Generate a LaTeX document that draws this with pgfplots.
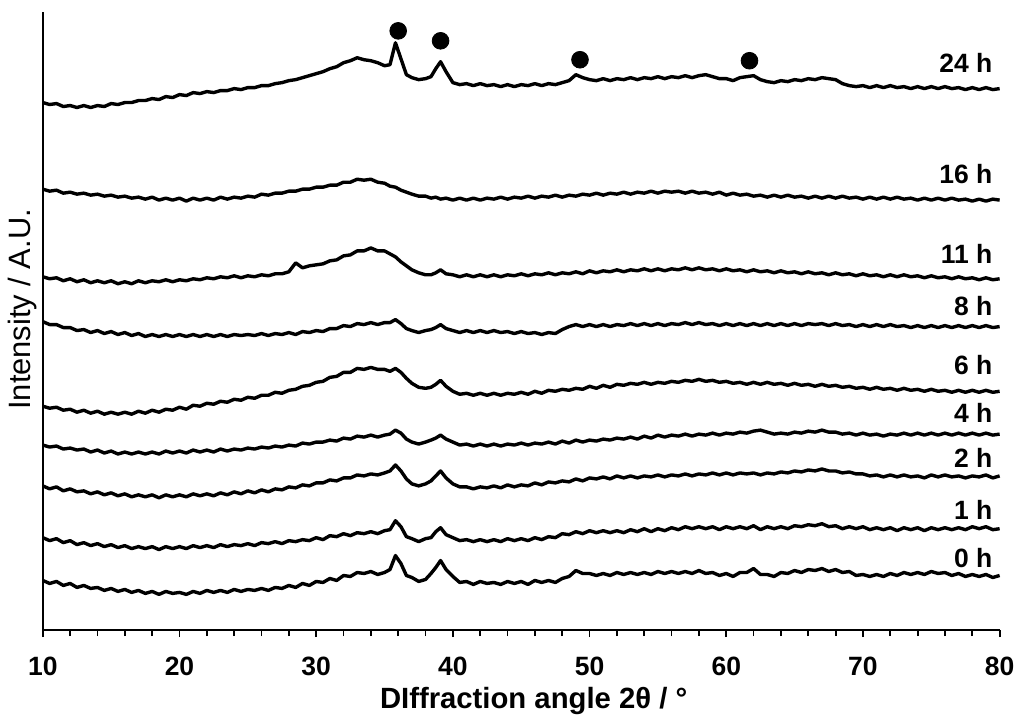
\documentclass[border=0pt]{standalone}
\usepackage{pgfplots}
\pgfplotsset{compat=1.18}
\usepackage{fontspec}
\setmainfont{Liberation Sans}

\begin{document}
\begin{tikzpicture}
\begin{axis}[
    scale only axis,
    width=480.5pt, height=310.5pt,
    xmin=10, xmax=80, ymin=0, ymax=621,
    axis x line=bottom, axis y line=left,
    axis line style={-, line width=0.9pt},
    xtick={10,20,...,80}, minor x tick num=4,
    ytick=\empty,
    tick align=outside,
    major tick length=3.5pt, minor tick length=3pt,
    tick style={black, line width=0.9pt},
    minor tick style={black, line width=0.9pt},
    /pgf/number format/assume math mode=true,
    xticklabel style={font=\fontsize{13.3}{15}\selectfont\bfseries, yshift=-6.5pt},
    xlabel={DIffraction angle 2θ / °},
    xlabel style={font=\fontsize{14.7}{17}\selectfont\bfseries, at={(axis description cs:0.513,-0.114)}, anchor=center},
    ylabel={Intensity / A.U.},
    ylabel style={font=\fontsize{15.5}{17}\selectfont, at={(axis description cs:-0.0213,0.519)}, anchor=center},
    clip=false,
    trace/.style={black, line width=1.7pt, line join=round, mark=none},
]
% 0 h
\addplot[trace] coordinates {(10,50)(10.5,47)(11,49)(11.5,45)(12,47)(12.5,43)(13,45)(13.5,42)(14,43)(14.5,40)(15,42)(15.5,39)(16,41)(16.5,38)(17,40)(17.5,37)(18,39)(18.5,36)(19,39)(19.5,37)(20,38)(20.5,36)(21,39)(21.5,37)(22,40)(22.5,38)(23,40)(23.5,38)(24,41)(24.5,39)(25,41)(25.5,40)(26,42)(26.5,40)(27,43)(27.5,42)(28,45)(28.5,43)(29,47)(29.5,45)(30,49)(30.5,48)(31,52)(31.5,50)(32,55)(32.5,54)(33,58)(33.5,57)(34,59)(34.5,56)(35,58)(35.4,61)(35.8,75)(36.2,67)(36.6,55)(37,53)(37.5,49)(38,51)(38.4,57)(38.75,63)(39.1,70)(39.5,61)(40,54)(40.5,48)(41,49)(41.5,46)(42,49)(42.5,47)(43,48)(43.5,46)(44,49)(44.5,47)(45,49)(45.5,46)(46,50)(46.5,48)(47,50)(47.5,48)(48,52)(48.5,54)(49,60)(49.5,57)(50,57)(50.5,55)(51,57)(51.5,55)(52,58)(52.5,56)(53,58)(53.5,56)(54,58)(54.5,56)(55,59)(55.5,57)(56,59)(56.5,57)(57,59)(57.5,57)(58,60)(58.5,57)(59,58)(59.5,55)(60,57)(60.5,54)(61,58)(61.5,58)(62,62)(62.5,56)(63,56)(63.5,54)(64,58)(64.5,57)(65,60)(65.5,58)(66,61)(66.5,60)(67,62)(67.5,59)(68,61)(68.5,58)(69,59)(69.5,55)(70,56)(70.5,54)(71,56)(71.5,54)(72,57)(72.5,55)(73,58)(73.5,56)(74,58)(74.5,56)(75,59)(75.5,57)(76,58)(76.5,55)(77,57)(77.5,54)(78,56)(78.5,54)(79,56)(79.5,53)(80,55)};
% 1 h
\addplot[trace] coordinates {(10,93)(10.5,90)(11,92)(11.5,88)(12,90)(12.5,86)(13,88)(13.5,85)(14,87)(14.5,84)(15,86)(15.5,83)(16,85)(16.5,82)(17,84)(17.5,82)(18,84)(18.5,81)(19,84)(19.5,82)(20,84)(20.5,82)(21,85)(21.5,83)(22,85)(22.5,83)(23,86)(23.5,84)(24,86)(24.5,85)(25,87)(25.5,85)(26,88)(26.5,87)(27,89)(27.5,87)(28,90)(28.5,89)(29,91)(29.5,90)(30,93)(30.5,91)(31,95)(31.5,94)(32,97)(32.5,95)(33,98)(33.5,97)(34,99)(34.5,97)(35,100)(35.4,101)(35.8,110)(36.2,104)(36.6,94)(37,92)(37.5,89)(38,92)(38.4,93)(38.75,99)(39.1,103)(39.5,96)(40,93)(40.5,90)(41,91)(41.5,89)(42,91)(42.5,89)(43,91)(43.5,89)(44,92)(44.5,90)(45,92)(45.5,90)(46,93)(46.5,91)(47,94)(47.5,93)(48,97)(48.5,96)(49,99)(49.5,97)(50,100)(50.5,98)(51,100)(51.5,98)(52,100)(52.5,98)(53,101)(53.5,99)(54,102)(54.5,99)(55,102)(55.5,100)(56,103)(56.5,101)(57,104)(57.5,102)(58,104)(58.5,102)(59,104)(59.5,101)(60,104)(60.5,102)(61,104)(61.5,102)(62,105)(62.5,101)(63,104)(63.5,102)(64,104)(64.5,102)(65,105)(65.5,104)(66,106)(66.5,105)(67,107)(67.5,104)(68,105)(68.5,102)(69,104)(69.5,102)(70,104)(70.5,101)(71,103)(71.5,101)(72,103)(72.5,100)(73,103)(73.5,101)(74,103)(74.5,100)(75,103)(75.5,101)(76,103)(76.5,101)(77,103)(77.5,101)(78,104)(78.5,102)(79,104)(79.5,101)(80,102)};
% 2 h
\addplot[trace] coordinates {(10,145)(10.5,142)(11,144)(11.5,140)(12,142)(12.5,139)(13,140)(13.5,137)(14,139)(14.5,136)(15,138)(15.5,135)(16,137)(16.5,134)(17,136)(17.5,134)(18,136)(18.5,133)(19,136)(19.5,134)(20,136)(20.5,134)(21,137)(21.5,135)(22,137)(22.5,135)(23,138)(23.5,136)(24,139)(24.5,137)(25,140)(25.5,138)(26,141)(26.5,139)(27,142)(27.5,141)(28,144)(28.5,143)(29,146)(29.5,145)(30,148)(30.5,148)(31,151)(31.5,150)(32,153)(32.5,153)(33,156)(33.5,155)(34,157)(34.5,156)(35,158)(35.4,160)(35.8,166)(36.2,160)(36.6,152)(37,147)(37.5,145)(38,147)(38.4,150)(38.75,155)(39.1,160)(39.5,153)(40,147)(40.5,144)(41,144)(41.5,142)(42,144)(42.5,143)(43,145)(43.5,143)(44,146)(44.5,144)(45,146)(45.5,145)(46,148)(46.5,146)(47,149)(47.5,148)(48,150)(48.5,149)(49,152)(49.5,150)(50,153)(50.5,152)(51,154)(51.5,152)(52,155)(52.5,153)(53,155)(53.5,153)(54,155)(54.5,154)(55,156)(55.5,154)(56,156)(56.5,155)(57,157)(57.5,155)(58,157)(58.5,156)(59,158)(59.5,156)(60,158)(60.5,156)(61,158)(61.5,157)(62,158)(62.5,156)(63,158)(63.5,157)(64,159)(64.5,158)(65,160)(65.5,159)(66,161)(66.5,160)(67,162)(67.5,160)(68,160)(68.5,158)(69,159)(69.5,157)(70,157)(70.5,155)(71,156)(71.5,154)(72,156)(72.5,154)(73,156)(73.5,154)(74,155)(74.5,153)(75,156)(75.5,154)(76,156)(76.5,154)(77,155)(77.5,153)(78,155)(78.5,154)(79,156)(79.5,153)(80,155)};
% 4 h
\addplot[trace] coordinates {(10,186)(10.5,184)(11,185)(11.5,182)(12,183)(12.5,181)(13,182)(13.5,179)(14,181)(14.5,178)(15,180)(15.5,177)(16,179)(16.5,177)(17,179)(17.5,177)(18,179)(18.5,177)(19,180)(19.5,178)(20,180)(20.5,178)(21,181)(21.5,179)(22,181)(22.5,179)(23,182)(23.5,180)(24,182)(24.5,181)(25,183)(25.5,182)(26,184)(26.5,183)(27,185)(27.5,184)(28,186)(28.5,185)(29,188)(29.5,187)(30,189)(30.5,189)(31,191)(31.5,190)(32,193)(32.5,192)(33,195)(33.5,194)(34,196)(34.5,194)(35,196)(35.4,197)(35.8,201)(36.2,198)(36.6,192)(37,189)(37.5,187)(38,189)(38.4,191)(38.75,193)(39.1,196)(39.5,192)(40,189)(40.5,186)(41,187)(41.5,185)(42,187)(42.5,185)(43,187)(43.5,185)(44,187)(44.5,186)(45,188)(45.5,186)(46,188)(46.5,187)(47,189)(47.5,187)(48,190)(48.5,188)(49,191)(49.5,189)(50,191)(50.5,190)(51,192)(51.5,191)(52,193)(52.5,192)(53,194)(53.5,192)(54,195)(54.5,193)(55,196)(55.5,194)(56,196)(56.5,195)(57,197)(57.5,195)(58,197)(58.5,196)(59,198)(59.5,196)(60,198)(60.5,197)(61,199)(61.5,198)(62,200)(62.5,201)(63,199)(63.5,197)(64,198)(64.5,197)(65,199)(65.5,198)(66,200)(66.5,199)(67,201)(67.5,199)(68,199)(68.5,197)(69,198)(69.5,196)(70,198)(70.5,196)(71,197)(71.5,195)(72,197)(72.5,196)(73,198)(73.5,196)(74,198)(74.5,196)(75,198)(75.5,196)(76,198)(76.5,196)(77,198)(77.5,196)(78,198)(78.5,196)(79,198)(79.5,196)(80,197)};
% 6 h
\addplot[trace] coordinates {(10,225)(10.5,223)(11,224)(11.5,221)(12,222)(12.5,219)(13,221)(13.5,218)(14,220)(14.5,217)(15,219)(15.5,217)(16,219)(16.5,217)(17,220)(17.5,218)(18,221)(18.5,219)(19,222)(19.5,221)(20,224)(20.5,222)(21,226)(21.5,225)(22,228)(22.5,227)(23,230)(23.5,229)(24,232)(24.5,231)(25,234)(25.5,233)(26,236)(26.5,236)(27,239)(27.5,238)(28,241)(28.5,242)(29,245)(29.5,246)(30,249)(30.5,250)(31,254)(31.5,255)(32,259)(32.5,259)(33,263)(33.5,262)(34,264)(34.5,262)(35,262)(35.4,260)(35.8,263)(36.2,259)(36.6,253)(37,248)(37.5,244)(38,243)(38.4,244)(38.75,247)(39.1,251)(39.5,245)(40,240)(40.5,237)(41,238)(41.5,236)(42,238)(42.5,236)(43,238)(43.5,236)(44,238)(44.5,237)(45,239)(45.5,237)(46,240)(46.5,238)(47,241)(47.5,240)(48,242)(48.5,241)(49,243)(49.5,242)(50,245)(50.5,243)(51,246)(51.5,244)(52,247)(52.5,246)(53,248)(53.5,247)(54,249)(54.5,247)(55,249)(55.5,248)(56,250)(56.5,249)(57,251)(57.5,250)(58,252)(58.5,250)(59,251)(59.5,249)(60,250)(60.5,248)(61,249)(61.5,247)(62,249)(62.5,247)(63,249)(63.5,247)(64,248)(64.5,246)(65,248)(65.5,246)(66,247)(66.5,245)(67,247)(67.5,245)(68,246)(68.5,244)(69,245)(69.5,243)(70,244)(70.5,242)(71,244)(71.5,242)(72,243)(72.5,241)(73,243)(73.5,241)(74,242)(74.5,240)(75,242)(75.5,240)(76,241)(76.5,239)(77,241)(77.5,239)(78,241)(78.5,239)(79,241)(79.5,239)(80,240)};
% 8 h
\addplot[trace] coordinates {(10,310)(10.5,307)(11,307)(11.5,304)(12,304)(12.5,301)(13,302)(13.5,299)(14,301)(14.5,298)(15,300)(15.5,297)(16,299)(16.5,296)(17,298)(17.5,295)(18,297)(18.5,295)(19,297)(19.5,295)(20,297)(20.5,295)(21,297)(21.5,295)(22,297)(22.5,295)(23,297)(23.5,295)(24,297)(24.5,296)(25,297)(25.5,296)(26,298)(26.5,296)(27,298)(27.5,297)(28,299)(28.5,297)(29,300)(29.5,299)(30,301)(30.5,300)(31,303)(31.5,303)(32,306)(32.5,305)(33,308)(33.5,307)(34,309)(34.5,307)(35,309)(35.4,309)(35.8,312)(36.2,308)(36.6,303)(37,301)(37.5,299)(38,301)(38.4,302)(38.75,304)(39.1,307)(39.5,303)(40,301)(40.5,299)(41,301)(41.5,299)(42,301)(42.5,299)(43,301)(43.5,299)(44,300)(44.5,298)(45,300)(45.5,298)(46,299)(46.5,297)(47,299)(47.5,298)(48,302)(48.5,305)(49,307)(49.5,305)(50,307)(50.5,305)(51,307)(51.5,305)(52,307)(52.5,306)(53,308)(53.5,306)(54,308)(54.5,306)(55,308)(55.5,306)(56,308)(56.5,307)(57,309)(57.5,307)(58,309)(58.5,307)(59,308)(59.5,306)(60,308)(60.5,306)(61,308)(61.5,306)(62,308)(62.5,306)(63,308)(63.5,306)(64,308)(64.5,306)(65,308)(65.5,306)(66,308)(66.5,307)(67,308)(67.5,306)(68,308)(68.5,306)(69,307)(69.5,305)(70,307)(70.5,305)(71,307)(71.5,305)(72,307)(72.5,305)(73,306)(73.5,304)(74,306)(74.5,304)(75,306)(75.5,304)(76,306)(76.5,304)(77,306)(77.5,304)(78,306)(78.5,304)(79,306)(79.5,304)(80,305)};
% 11 h
\addplot[trace] coordinates {(10,355)(10.5,353)(11,354)(11.5,351)(12,353)(12.5,350)(13,352)(13.5,349)(14,351)(14.5,349)(15,351)(15.5,348)(16,350)(16.5,348)(17,351)(17.5,349)(18,351)(18.5,350)(19,352)(19.5,350)(20,352)(20.5,351)(21,353)(21.5,352)(22,354)(22.5,353)(23,355)(23.5,354)(24,356)(24.5,354)(25,356)(25.5,355)(26,357)(26.5,356)(27,358)(27.5,358)(28,360)(28.5,369)(29,364)(29.5,366)(30,367)(30.5,368)(31,371)(31.5,372)(32,376)(32.5,377)(33,381)(33.5,381)(34,384)(34.5,381)(35,381)(35.4,378)(35.8,375)(36.2,370)(36.6,366)(37,362)(37.5,359)(38,357)(38.4,357)(38.75,359)(39.1,362)(39.5,358)(40,357)(40.5,355)(41,357)(41.5,355)(42,357)(42.5,355)(43,357)(43.5,355)(44,357)(44.5,356)(45,358)(45.5,356)(46,358)(46.5,357)(47,359)(47.5,357)(48,359)(48.5,358)(49,360)(49.5,358)(50,361)(50.5,359)(51,361)(51.5,360)(52,362)(52.5,360)(53,362)(53.5,361)(54,363)(54.5,361)(55,363)(55.5,361)(56,363)(56.5,362)(57,364)(57.5,362)(58,364)(58.5,362)(59,363)(59.5,361)(60,363)(60.5,361)(61,362)(61.5,360)(62,362)(62.5,360)(63,361)(63.5,359)(64,361)(64.5,359)(65,360)(65.5,358)(66,360)(66.5,358)(67,359)(67.5,357)(68,359)(68.5,357)(69,358)(69.5,356)(70,358)(70.5,356)(71,357)(71.5,355)(72,357)(72.5,355)(73,357)(73.5,355)(74,356)(74.5,354)(75,356)(75.5,354)(76,355)(76.5,353)(77,355)(77.5,353)(78,354)(78.5,352)(79,354)(79.5,352)(80,353)};
% 16 h
\addplot[trace] coordinates {(10,443)(10.5,441)(11,442)(11.5,439)(12,440)(12.5,438)(13,439)(13.5,437)(14,438)(14.5,436)(15,437)(15.5,435)(16,436)(16.5,434)(17,435)(17.5,433)(18,435)(18.5,432)(19,434)(19.5,432)(20,434)(20.5,431)(21,434)(21.5,432)(22,434)(22.5,432)(23,435)(23.5,433)(24,435)(24.5,434)(25,436)(25.5,435)(26,438)(26.5,437)(27,439)(27.5,439)(28,441)(28.5,441)(29,443)(29.5,443)(30,445)(30.5,445)(31,447)(31.5,447)(32,450)(32.5,450)(33,453)(33.5,452)(34,453)(34.5,450)(35,449)(35.4,446)(35.8,445)(36.2,442)(36.6,440)(37,438)(37.5,436)(38,436)(38.4,434)(38.75,435)(39.1,433)(39.5,434)(40,432)(40.5,434)(41,432)(41.5,434)(42,432)(42.5,434)(43,433)(43.5,435)(44,433)(44.5,435)(45,434)(45.5,436)(46,434)(46.5,436)(47,435)(47.5,437)(48,435)(48.5,437)(49,436)(49.5,438)(50,437)(50.5,439)(51,437)(51.5,439)(52,438)(52.5,440)(53,438)(53.5,440)(54,439)(54.5,441)(55,439)(55.5,441)(56,440)(56.5,441)(57,439)(57.5,441)(58,439)(58.5,440)(59,438)(59.5,440)(60,437)(60.5,439)(61,437)(61.5,438)(62,436)(62.5,437)(63,435)(63.5,437)(64,435)(64.5,437)(65,435)(65.5,436)(66,434)(66.5,436)(67,434)(67.5,436)(68,434)(68.5,436)(69,434)(69.5,435)(70,433)(70.5,435)(71,433)(71.5,435)(72,433)(72.5,435)(73,433)(73.5,434)(74,432)(74.5,434)(75,432)(75.5,434)(76,432)(76.5,434)(77,432)(77.5,433)(78,431)(78.5,433)(79,431)(79.5,433)(80,432)};
% 24 h
\addplot[trace] coordinates {(10,530)(10.5,528)(11,529)(11.5,526)(12,527)(12.5,525)(13,527)(13.5,525)(14,527)(14.5,526)(15,529)(15.5,528)(16,530)(16.5,530)(17,532)(17.5,532)(18,534)(18.5,533)(19,536)(19.5,535)(20,538)(20.5,537)(21,540)(21.5,539)(22,541)(22.5,540)(23,542)(23.5,542)(24,544)(24.5,543)(25,545)(25.5,545)(26,547)(26.5,547)(27,549)(27.5,550)(28,552)(28.5,553)(29,555)(29.5,557)(30,559)(30.5,561)(31,564)(31.5,566)(32,570)(32.5,572)(33,575)(33.5,573)(34,572)(34.5,570)(35,567)(35.4,568)(35.8,590)(36.2,574)(36.6,558)(37,555)(37.5,553)(38,554)(38.4,556)(38.75,564)(39.1,571)(39.5,561)(40,550)(40.5,548)(41,549)(41.5,547)(42,549)(42.5,547)(43,548)(43.5,546)(44,548)(44.5,546)(45,548)(45.5,547)(46,549)(46.5,547)(47,549)(47.5,548)(48,550)(48.5,552)(49,558)(49.5,555)(50,553)(50.5,552)(51,554)(51.5,552)(52,554)(52.5,553)(53,555)(53.5,553)(54,555)(54.5,554)(55,556)(55.5,554)(56,556)(56.5,555)(57,557)(57.5,555)(58,557)(58.5,558)(59,556)(59.5,554)(60,554)(60.5,552)(61,555)(61.5,556)(62,557)(62.5,553)(63,551)(63.5,550)(64,552)(64.5,551)(65,553)(65.5,552)(66,554)(66.5,553)(67,555)(67.5,554)(68,553)(68.5,549)(69,547)(69.5,546)(70,547)(70.5,545)(71,547)(71.5,545)(72,547)(72.5,545)(73,546)(73.5,544)(74,546)(74.5,544)(75,546)(75.5,544)(76,546)(76.5,544)(77,545)(77.5,543)(78,545)(78.5,543)(79,545)(79.5,543)(80,544)};
% phase markers
\addplot[black, only marks, mark=*, mark size=4.2pt] coordinates {(36.0,602)(39.1,592)(49.3,573)(61.7,572)};
% sample labels
\begin{scope}[every node/.style={anchor=east, inner sep=0pt, font=\fontsize{13.3}{15}\selectfont\bfseries}]
\node at (axis cs:79.5,570) {24 h};
\node at (axis cs:79.5,458) {16 h};
\node at (axis cs:79.5,378) {11 h};
\node at (axis cs:79.5,326) {8 h};
\node at (axis cs:79.5,266) {6 h};
\node at (axis cs:79.5,218) {4 h};
\node at (axis cs:79.5,173) {2 h};
\node at (axis cs:79.5,121) {1 h};
\node at (axis cs:79.5,73) {0 h};
\end{scope}
\end{axis}
\useasboundingbox (-21.5pt,-42pt) rectangle (489pt,316.5pt);
\end{tikzpicture}
\end{document}
